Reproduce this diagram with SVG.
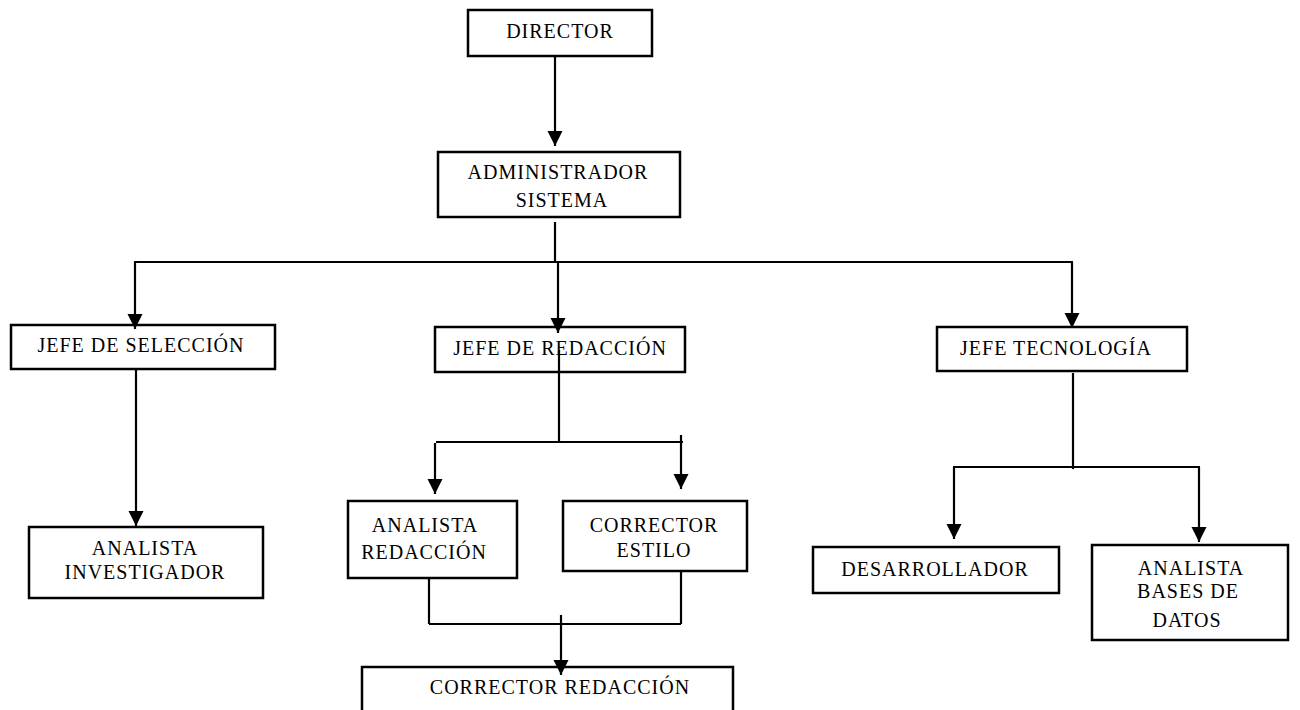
<svg xmlns="http://www.w3.org/2000/svg" width="1300" height="710" viewBox="0 0 1300 710">
<style>
.box{fill:#fff;stroke:#000;stroke-width:2.5}
.t{font-family:"Liberation Serif","Times New Roman",serif;font-size:20px;letter-spacing:1px;fill:#000;text-anchor:middle}
.c{stroke:#000;stroke-width:2.2;fill:none}
</style>
<defs>
<marker id="ah" markerUnits="userSpaceOnUse" markerWidth="16" markerHeight="16" refX="15" refY="7.5" orient="auto" viewBox="0 0 16 16">
<path d="M0,0 L15,7.5 L0,15 z" fill="#000"/>
</marker>
</defs>
<rect width="1300" height="710" fill="#fff"/>
<g id="director"><rect class="box" x="468" y="10" width="184" height="46"/><text class="t" x="560" y="38">DIRECTOR</text></g>
<g id="admin"><rect class="box" x="438" y="152" width="242" height="65"/><text class="t" x="558" y="179">ADMINISTRADOR</text><text class="t" x="562" y="207">SISTEMA</text></g>
<g id="jefe-seleccion"><rect class="box" x="11" y="325" width="264" height="44"/><text class="t" x="141" y="352">JEFE DE SELECCIÓN</text></g>
<g id="jefe-redaccion"><rect class="box" x="435" y="327" width="250" height="45"/><text class="t" x="560" y="355">JEFE DE REDACCIÓN</text></g>
<g id="jefe-tecnologia"><rect class="box" x="937" y="327" width="250" height="44"/><text class="t" x="1056" y="355">JEFE TECNOLOGÍA</text></g>
<g id="analista-investigador"><rect class="box" x="29" y="527" width="234" height="71"/><text class="t" x="145" y="555">ANALISTA</text><text class="t" x="145" y="579">INVESTIGADOR</text></g>
<g id="analista-redaccion"><rect class="box" x="348" y="501" width="169" height="77"/><text class="t" x="425" y="532">ANALISTA</text><text class="t" x="424" y="559">REDACCIÓN</text></g>
<g id="corrector-estilo"><rect class="box" x="563" y="501" width="184" height="70"/><text class="t" x="654" y="532">CORRECTOR</text><text class="t" x="654" y="557">ESTILO</text></g>
<g id="corrector-redaccion"><rect class="box" x="362" y="667" width="371" height="60"/><text class="t" x="560" y="694">CORRECTOR REDACCIÓN</text></g>
<g id="desarrollador"><rect class="box" x="813" y="547" width="246" height="46"/><text class="t" x="935" y="576">DESARROLLADOR</text></g>
<g id="analista-bd"><rect class="box" x="1092" y="545" width="196" height="95"/><text class="t" x="1191" y="575">ANALISTA</text><text class="t" x="1188" y="598">BASES DE</text><text class="t" x="1187" y="627">DATOS</text></g>
<g id="connectors">
<line class="c" x1="555" y1="56" x2="555" y2="146" marker-end="url(#ah)"/>
<line class="c" x1="555" y1="222" x2="555" y2="262"/>
<line class="c" x1="134" y1="262" x2="1073" y2="262"/>
<line class="c" x1="135" y1="262" x2="135" y2="329" marker-end="url(#ah)"/>
<line class="c" x1="558" y1="262" x2="558" y2="333" marker-end="url(#ah)"/>
<line class="c" x1="1072" y1="262" x2="1072" y2="328" marker-end="url(#ah)"/>
<line class="c" x1="136" y1="369" x2="136" y2="526" marker-end="url(#ah)"/>
<line class="c" x1="559" y1="350" x2="559" y2="442"/>
<line class="c" x1="436" y1="442" x2="683" y2="442"/>
<line class="c" x1="435" y1="443" x2="435" y2="494" marker-end="url(#ah)"/>
<line class="c" x1="681" y1="435" x2="681" y2="489" marker-end="url(#ah)"/>
<line class="c" x1="429" y1="577" x2="429" y2="624"/>
<line class="c" x1="681" y1="571" x2="681" y2="624"/>
<line class="c" x1="429" y1="624" x2="681" y2="624"/>
<line class="c" x1="561" y1="615" x2="561" y2="675" marker-end="url(#ah)"/>
<line class="c" x1="1073" y1="373" x2="1073" y2="469"/>
<line class="c" x1="953" y1="467" x2="1200" y2="467"/>
<line class="c" x1="954" y1="467" x2="954" y2="539" marker-end="url(#ah)"/>
<line class="c" x1="1199" y1="467" x2="1199" y2="542" marker-end="url(#ah)"/>
</g>
</svg>
